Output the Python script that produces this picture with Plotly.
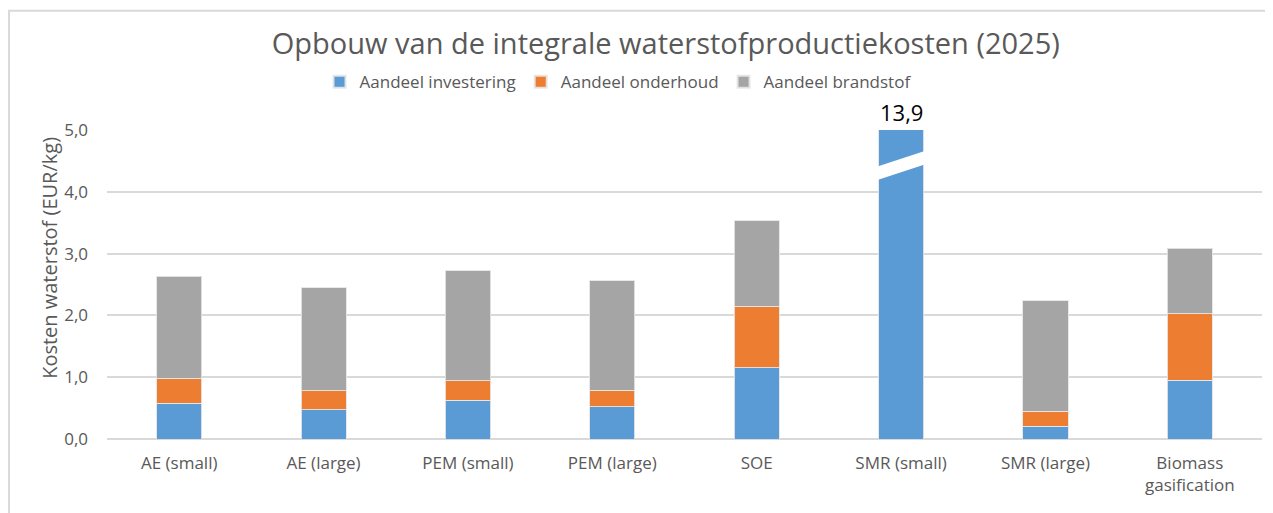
import plotly.graph_objects as go

categories = ["AE (small)", "AE (large)", "PEM (small)", "PEM (large)", "SOE",
              "SMR (small)", "SMR (large)", "Biomass<br>gasification"]
investering = [0.58, 0.47, 0.63, 0.52, 1.15, 13.9, 0.21, 0.95]
onderhoud = [0.40, 0.31, 0.31, 0.27, 1.00, 0.0, 0.24, 1.08]
brandstof = [1.65, 1.67, 1.78, 1.77, 1.38, 0.0, 1.79, 1.06]
series_names = ["Aandeel investering", "Aandeel onderhoud", "Aandeel brandstof"]
colors = ["#5B9BD5", "#ED7D31", "#A5A5A5"]
y_ticks = [0, 1, 2, 3, 4, 5]
y_max = 5
broken_index = 5  # SMR (small) exceeds axis

FONT = "'Open Sans', Lato, sans-serif"
TXT = "#595959"

fig = go.Figure()
for name, vals, col in zip(series_names, [investering, onderhoud, brandstof], colors):
    fig.add_trace(go.Bar(
        x=categories, y=vals, name=name, marker_color=col,
        marker_line=dict(width=1, color="rgba(230,230,230,0.9)"),
        width=0.3125,
    ))

# label with the true value of the clipped bar
fig.add_annotation(
    x=categories[broken_index], y=y_max, xref="x", yref="y",
    text=f"{investering[broken_index]:.1f}".replace(".", ","),
    showarrow=False, yanchor="bottom", yshift=1,
    font=dict(family=FONT, size=22, color="#000000"),
)

# y-axis title (placed as in the reference, slightly above the axis middle)
fig.add_annotation(
    x=-0.0494, y=0.586, xref="paper", yref="paper",
    text="Kosten waterstof (EUR/kg)", textangle=-90, showarrow=False,
    xanchor="center", yanchor="middle",
    font=dict(family=FONT, size=20, color=TXT),
)

# axis-break band across the clipped bar
bx = broken_index
fig.add_shape(
    type="path", xref="x", yref="y",
    path=(f"M {bx-0.19},4.17 L {bx+0.19},4.46 L {bx+0.19},4.68 "
          f"L {bx-0.19},4.39 Z"),
    fillcolor="white", line=dict(width=0), layer="above",
)

# outer chart border
fig.add_shape(
    type="rect", xref="paper", yref="paper",
    x0=-0.0848, x1=1.2, y0=-0.5, y1=1.386,
    line=dict(color="#D9D9D9", width=2), fillcolor="rgba(0,0,0,0)",
)

fig.update_layout(
    width=1265, height=505,
    margin=dict(l=99, r=11, t=122, b=74),
    paper_bgcolor="white", plot_bgcolor="white",
    barmode="stack", separators=",.",
    font=dict(family=FONT, color=TXT),
    title=dict(text="Opbouw van de integrale waterstofproductiekosten (2025)",
               x=0.52, xanchor="center", y=0.93, yanchor="middle",
               font=dict(family=FONT, size=29, color=TXT)),
    legend=dict(orientation="h", x=0.184, xanchor="left", y=1.155, yanchor="middle",
                font=dict(family=FONT, size=17, color=TXT),
                itemsizing="constant", tracegroupgap=0, traceorder="normal",
                bgcolor="rgba(0,0,0,0)"),
    showlegend=True,
)
fig.update_yaxes(
    range=[0, y_max], tickvals=y_ticks, tickformat=".1f",
    showgrid=True, gridcolor="#D9D9D9", gridwidth=2,
    zeroline=True, zerolinecolor="#D9D9D9", zerolinewidth=2,
    showline=False, ticks="", ticklabelstandoff=18,
    tickfont=dict(family=FONT, size=17, color=TXT),
)
fig.update_xaxes(
    showgrid=False, showline=False, ticks="", ticklabelstandoff=12,
    tickfont=dict(family=FONT, size=17, color=TXT),
)

fig.write_html("out.html")
